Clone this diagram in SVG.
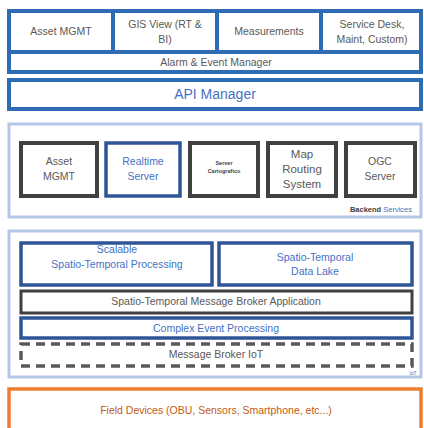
<svg xmlns="http://www.w3.org/2000/svg" width="424" height="428" viewBox="0 0 424 428">
<style>
text{font-family:"Liberation Sans",Arial,sans-serif;text-anchor:middle;dominant-baseline:middle}
.t{font-size:10.5px;fill:#595959}
.b{font-size:10.5px;fill:#4472c4}
.blue{fill:#fff;stroke:#2e6db4;stroke-width:4}
.dblue{fill:#fff;stroke:#2f5597;stroke-width:3.5}
.gray{fill:#fff;stroke:#404040;stroke-width:4}
.gray3{fill:#fff;stroke:#404040;stroke-width:3}
.light{fill:#fff;stroke:#b4c7e7;stroke-width:3}
</style>
<rect width="424" height="428" fill="#fff"/>
<g id="top">
<rect class="blue" x="9" y="11" width="412" height="61"/>
<g id="asset-top"><rect class="blue" x="9" y="11" width="104" height="41"/><text class="t" x="61" y="32">Asset MGMT</text></g>
<g id="gis"><rect class="blue" x="113" y="11" width="104" height="41"/><text class="t" x="165" y="25">GIS View (RT &amp;</text><text class="t" x="165" y="40">BI)</text></g>
<g id="meas"><rect class="blue" x="217" y="11" width="104" height="41"/><text class="t" x="269" y="32">Measurements</text></g>
<g id="service"><rect class="blue" x="321" y="11" width="100" height="41"/><text class="t" x="372" y="25">Service Desk,</text><text class="t" x="372" y="40">Maint, Custom)</text></g>
<g id="alarm"><text class="t" x="216" y="63">Alarm &amp; Event Manager</text></g>
</g>
<g id="api"><rect class="blue" x="9" y="80" width="412" height="29"/><text x="215" y="95" style="font-size:14px;fill:#4472c4">API Manager</text></g>
<g id="backend">
<rect class="light" x="9" y="124" width="412" height="93"/>
<text x="412" y="210" style="font-size:7.5px;text-anchor:end"><tspan fill="#404040" font-weight="bold">Backend </tspan><tspan fill="#4472c4">Services</tspan></text>
</g>
<g id="asset-be"><rect class="gray" x="21" y="143" width="76" height="53"/><text class="t" x="59" y="162">Asset</text><text class="t" x="59" y="177">MGMT</text></g>
<g id="realtime"><rect class="dblue" x="106" y="143" width="74" height="53"/><text class="b" x="143" y="162">Realtime</text><text class="b" x="143" y="177">Server</text></g>
<g id="cartografico"><rect class="gray" x="190" y="143" width="68" height="53"/><text x="224" y="164" style="font-size:5.5px;fill:#404040;font-weight:bold">Server</text><text x="224" y="172" style="font-size:5.5px;fill:#404040;font-weight:bold">Cartografico</text></g>
<g id="maprouting"><rect class="gray" x="268" y="143" width="68" height="53"/><text class="t" x="302" y="155" style="font-size:11.5px">Map</text><text class="t" x="302" y="170" style="font-size:11.5px">Routing</text><text class="t" x="302" y="185" style="font-size:11.5px">System</text></g>
<g id="ogc"><rect class="gray" x="346" y="143" width="69" height="53"/><text class="t" x="380" y="162">OGC</text><text class="t" x="380" y="177">Server</text></g>
<g id="iot">
<rect class="light" x="9" y="231" width="412" height="146"/>
<text x="413" y="374" style="font-size:5px;fill:#4472c4">IoT</text>
</g>
<g id="scalable"><rect class="dblue" x="21" y="243" width="191" height="42"/><text class="b" x="117" y="250">Scalable</text><text class="b" x="117" y="265">Spatio-Temporal Processing</text></g>
<g id="datalake"><rect class="dblue" x="219" y="243" width="193" height="42"/><text class="b" x="315" y="258">Spatio-Temporal</text><text class="b" x="315" y="272">Data Lake</text></g>
<g id="mbapp"><rect class="gray3" x="21" y="291" width="391" height="22"/><text class="t" x="216" y="302">Spatio-Temporal Message Broker Application</text></g>
<g id="cep"><rect class="dblue" x="21" y="318" width="391" height="20"/><text class="b" x="216" y="329">Complex Event Processing</text></g>
<g id="mbiot"><rect x="21" y="344" width="391" height="22" fill="#fff" stroke="#595959" stroke-width="3.5" stroke-dasharray="9,6"/><text class="t" x="216" y="355">Message Broker IoT</text></g>
<g id="field"><rect x="9" y="389" width="412" height="45" fill="#fff" stroke="#ed7d31" stroke-width="3.5"/><text x="216" y="411" style="font-size:10.5px;fill:#c55a11">Field Devices (OBU, Sensors, Smartphone, etc...)</text></g>
<g id="connectors"/>
</svg>
